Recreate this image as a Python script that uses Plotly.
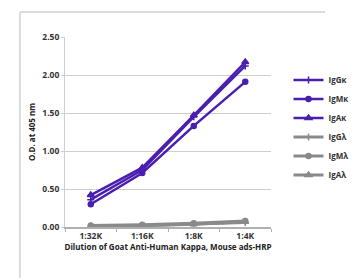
import plotly.graph_objects as go

categories = ["1:32K", "1:16K", "1:8K", "1:4K"]
series_names = ["IgGκ", "IgMκ", "IgAκ", "IgGλ", "IgMλ", "IgAλ"]
igg_k = [0.36, 0.75, 1.45, 2.12]
igm_k = [0.30, 0.71, 1.33, 1.91]
iga_k = [0.42, 0.78, 1.47, 2.17]
igg_l = [0.01, 0.02, 0.04, 0.06]
igm_l = [0.02, 0.03, 0.05, 0.08]
iga_l = [0.00, 0.015, 0.035, 0.07]
y_ticks = [0.0, 0.5, 1.0, 1.5, 2.0, 2.5]

purple = "#4a1fb0"
gray = "#8a8a8a"
values = [igg_k, igm_k, iga_k, igg_l, igm_l, iga_l]
colors = [purple, purple, purple, gray, gray, gray]
symbols = ["cross-thin-open", "circle", "triangle-up", "cross-thin-open", "circle", "triangle-up"]
sizes = [5, 5, 6, 5, 5, 6]
widths = [2.5, 2.5, 2.5, 3, 3, 3]

fig = go.Figure()
for name, vals, c, s, sz, w in zip(series_names, values, colors, symbols, sizes, widths):
    fig.add_trace(go.Scatter(
        x=categories, y=vals, name=name, mode="lines+markers",
        line=dict(color=c, width=w),
        marker=dict(symbol=s, size=sz, color=c, line=dict(color=c, width=1.5)),
    ))

W, H = 358, 278
ml, mr, mt, mb = 57, 61, 29, 59
fig.update_layout(
    width=W, height=H,
    margin=dict(l=ml, r=mr, t=mt, b=mb, pad=0),
    paper_bgcolor="white", plot_bgcolor="white",
    font=dict(family="Open Sans, Arial, sans-serif", color="#333333", size=8),
    showlegend=True,
    legend=dict(x=1.085, y=0.85, xanchor="left", yanchor="top",
                font=dict(size=8, color="#333333", family="Open Sans, Arial, sans-serif", weight="bold"),
                itemwidth=30, tracegroupgap=0, bgcolor="rgba(0,0,0,0)"),
    xaxis=dict(
        type="category", showgrid=False, showline=True, linecolor="#b0b0b0", linewidth=1.5,
        ticks="outside", tickson="boundaries", ticklen=3, tickcolor="#b0b0b0",
        tickfont=dict(size=8.5, color="#333333", weight="bold"),
        title=dict(text="Dilution of Goat Anti-Human Kappa, Mouse ads-HRP",
                   font=dict(size=8, color="#222222", weight="bold"), standoff=3),
        range=[-0.5, 3.5],
    ),
    yaxis=dict(
        range=[0, 2.5], tickvals=y_ticks, tickformat=".2f",
        showgrid=True, gridcolor="#cfcfcf", gridwidth=1,
        showline=True, linecolor="#cfcfcf", linewidth=1,
        ticks="outside", ticklen=3, tickcolor="#cfcfcf",
        zeroline=False,
        tickfont=dict(size=8.5, color="#333333", weight="bold"),
        title=dict(text="O.D. at 405 nm", font=dict(size=8, color="#222222", weight="bold"), standoff=5),
    ),
)

# light gray frame around the picture
pw = W - ml - mr
ph = H - mt - mb
def px(x):
    return (x - ml) / pw
def py(y):
    return (H - mb - y) / ph
fig.add_shape(type="line", xref="paper", yref="paper", x0=px(4.5), x1=px(4.5), y0=py(4), y1=py(276),
              line=dict(color="#dcdcdc", width=2))
fig.add_shape(type="line", xref="paper", yref="paper", x0=px(4.5), x1=px(360), y0=py(4), y1=py(4),
              line=dict(color="#dcdcdc", width=2))
fig.add_shape(type="line", xref="paper", yref="paper", x0=px(4.5), x1=px(360), y0=py(276), y1=py(276),
              line=dict(color="#dcdcdc", width=2))

fig.write_html("out.html")
